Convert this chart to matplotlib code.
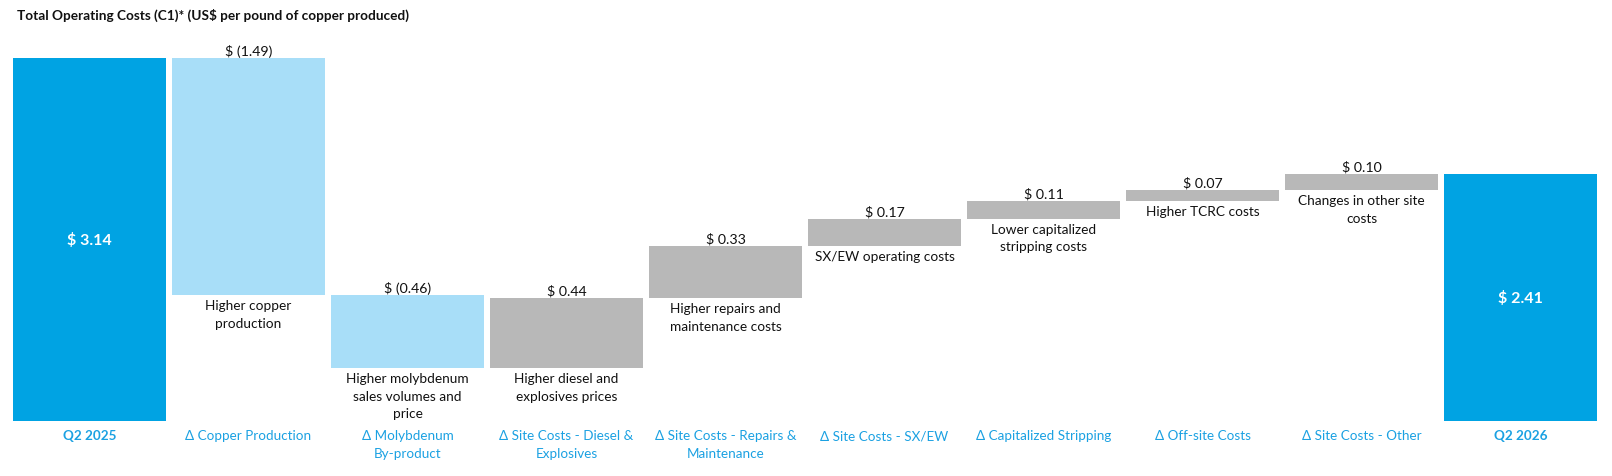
import matplotlib
matplotlib.use("Agg")
import matplotlib.pyplot as plt
import numpy as np

plt.rcParams['font.family'] = ['Lato', 'DejaVu Sans']

categories = ["Q2 2025", "Δ Copper Production", "Δ Molybdenum\nBy-product",
              "Δ Site Costs - Diesel &\nExplosives", "Δ Site Costs - Repairs &\nMaintenance",
              "Δ Site Costs - SX/EW", "Δ Capitalized Stripping", "Δ Off-site Costs",
              "Δ Site Costs - Other", "Q2 2026"]
values = [3.14, -1.49, -0.46, 0.44, 0.33, 0.17, 0.11, 0.07, 0.10, 2.41]
kinds = ["total", "delta", "delta", "delta", "delta", "delta", "delta", "delta", "delta", "total"]
descriptions = ["", "Higher copper\nproduction", "Higher molybdenum\nsales volumes and\nprice",
                "Higher diesel and\nexplosives prices", "Higher repairs and\nmaintenance costs",
                "SX/EW operating costs", "Lower capitalized\nstripping costs",
                "Higher TCRC costs", "Changes in other site\ncosts", ""]
value_labels = ["$ 3.14", "$ (1.49)", "$ (0.46)", "$ 0.44", "$ 0.33", "$ 0.17",
                "$ 0.11", "$ 0.07", "$ 0.10", "$ 2.41"]

C_TOTAL = "#00A3E3"
C_DEC = "#A8DEF8"
C_INC = "#B8B8B8"
C_TICK = "#1BA1E2"

YMIN, YMAX = 0.857, 3.30

fig = plt.figure(figsize=(16.12, 4.77), dpi=100)
ax = fig.add_axes([0.0062, 0.1153, 0.9864, 0.8143])
x = np.arange(len(categories))
running = 0.0
for i, (v, k) in enumerate(zip(values, kinds)):
    if k == "total":
        running = v
        ax.bar(i, v, bottom=0, width=0.962, color=C_TOTAL, zorder=2)
        ax.text(i, (YMIN + v) / 2, value_labels[i], ha="center", va="center",
                color="white", fontsize=11.5, fontweight="bold")
    else:
        start = running
        end = running + v
        running = end
        lo, hi = min(start, end), max(start, end)
        color = C_DEC if v < 0 else C_INC
        ax.bar(i, hi - lo, bottom=lo, width=0.962, color=color, zorder=2)
        ax.annotate(value_labels[i], (i, hi), xytext=(0, 1), textcoords="offset points",
                    ha="center", va="bottom", fontsize=10.2, color="#111111")
        ax.annotate(descriptions[i], (i, lo), xytext=(0, -3), textcoords="offset points",
                    ha="center", va="top", fontsize=9.8, color="#111111", linespacing=1.55)

ax.set_xlim(-0.5, len(categories) - 0.5)
ax.set_ylim(YMIN, YMAX)
ax.set_xticks(x)
ax.set_xticklabels(categories, color=C_TICK, fontsize=9.7, linespacing=1.6)
for i, lbl in enumerate(ax.get_xticklabels()):
    if kinds[i] == "total":
        lbl.set_fontweight("bold")
ax.tick_params(axis="x", length=0, pad=6)
ax.set_yticks([])
for s in ax.spines.values():
    s.set_visible(False)

fig.text(0.0105, 0.9686, "Total Operating Costs (C1)* (US$ per pound of copper produced)",
         fontsize=9.8, fontweight="bold", ha="left", va="center", color="#111111")

fig.savefig("out.png", dpi=100)
